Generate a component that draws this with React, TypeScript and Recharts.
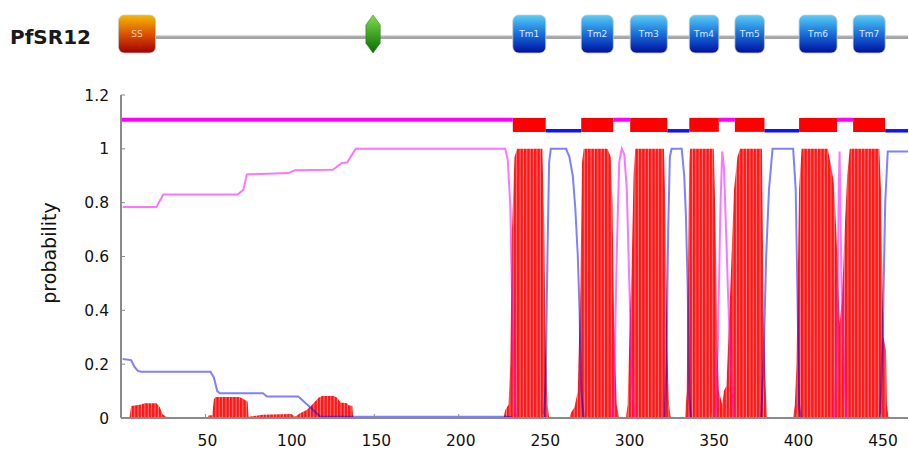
import React from "react";
import { ComposedChart, Area, Line, XAxis, YAxis, ReferenceArea, ReferenceLine } from "recharts";

// residue axis
const X_MAX = 466;
const xTicks = [50, 100, 150, 200, 250, 300, 350, 400, 450];
const yTicks = [0, 0.2, 0.4, 0.6, 0.8, 1, 1.2];

const proteinName = "PfSR12";

// posterior probabilities, [residue, p]
const tmProb: [number, number][] = [
  [0, 0], [5, 0], [6, 0.045], [12, 0.05], [14, 0.055], [21, 0.055], [23, 0.04], [24.5, 0.015], [27, 0.004], [33, 0.004], [34, 0],
  [51, 0], [52, 0.01], [54, 0.01], [55, 0.07], [56, 0.078], [70, 0.078], [72, 0.072], [75, 0.06], [75.5, 0.005],
  [84, 0.012], [101, 0.015], [103, 0.005], [106, 0.018], [110, 0.03], [114, 0.055], [117, 0.075], [119, 0.082],
  [126, 0.082], [128, 0.075], [130, 0.058], [134, 0.055], [134.5, 0.048], [137, 0.045], [137.5, 0],
  [226.5, 0], [227.5, 0.03], [229.5, 0.05], [230.5, 0.2], [231.5, 0.7], [233, 0.97], [234.5, 1], [249.5, 1],
  [250.5, 0.75], [251.5, 0.25], [252.5, 0.05], [253.5, 0],
  [265.5, 0], [266.5, 0.02], [268.5, 0.04], [270.5, 0.1], [272, 0.5], [273, 0.95], [274, 1], [288, 1],
  [290, 0.97], [291, 0.8], [292, 0.35], [293.5, 0.05], [295, 0],
  [299, 0], [300, 0.05], [301, 0.3], [302.5, 0.6], [303.5, 0.9], [304.5, 1], [321.5, 1], [322.5, 0.75],
  [323.5, 0.25], [324.5, 0.05], [325.5, 0],
  [334, 0], [335, 0.1], [335.5, 0.45], [336.5, 0.95], [337, 1], [351, 1], [352, 0.75], [353, 0.3], [354, 0.1],
  [356, 0.05], [357, 0.1], [358.5, 0.12], [360, 0.35], [361.5, 0.6], [363, 0.85], [365, 0.97], [366.5, 1],
  [379.5, 1], [380.5, 0.45], [381.5, 0.15], [382.5, 0],
  [398, 0], [399, 0.05], [400, 0.2], [401.5, 0.85], [403, 1], [418.5, 1], [420, 0.95], [422, 0.88], [423.5, 0.7],
  [424.5, 0.55], [425.5, 0.35], [427, 0.45], [428.5, 0.7], [430, 0.9], [431.5, 1], [449, 1], [450, 0.85],
  [451, 0.45], [451.5, 0.3], [453, 0.25], [453.5, 0.05], [454.5, 0], [466, 0],
];

const insideProb: [number, number][] = [
  [1, 0.219], [6, 0.215], [8, 0.19], [10, 0.175], [12, 0.172], [53, 0.172], [55, 0.15], [57, 0.1], [58.5, 0.092],
  [84, 0.092], [86.5, 0.08], [105, 0.08], [112, 0.04], [118, 0.005], [230, 0.005], [232, 0],
  [250.5, 0], [251.5, 0.15], [252.5, 0.6], [253.5, 0.95], [254.5, 1], [263.5, 1], [265.5, 0.97], [267.5, 0.9],
  [269, 0.78], [270.5, 0.6], [271.5, 0.4], [272.5, 0.1], [274, 0],
  [322, 0], [323, 0.2], [324, 0.7], [325, 0.97], [326, 1], [332, 1], [333.5, 0.9], [334.5, 0.75], [335.5, 0.5],
  [336.5, 0.08], [337.5, 0],
  [379, 0], [380.3, 0.17], [382, 0.6], [383.7, 0.85], [385.8, 1], [398, 1], [399.5, 0.85], [400.5, 0.48],
  [401.5, 0.05], [402.5, 0],
  [449.5, 0], [451, 0.3], [452.5, 0.8], [454, 0.99], [466, 0.99],
];

const outsideProb: [number, number][] = [
  [1, 0.784], [21, 0.784], [25, 0.83], [69, 0.83], [72.5, 0.848], [74.5, 0.905], [99, 0.91], [103, 0.92],
  [125.5, 0.922], [130.5, 0.947], [134, 0.95], [139, 1.0], [227.5, 1.0], [229, 0.96], [230.5, 0.79], [232, 0.3],
  [233.5, 0.02], [234.5, 0],
  [291, 0], [292, 0.1], [293.5, 0.6], [295, 0.95], [296.5, 1.0], [298, 0.98], [299.5, 0.85], [301, 0.5],
  [302.5, 0.15], [304, 0],
  [352, 0], [353.5, 0.3], [355, 0.8], [356, 0.99], [357, 0.93], [358, 0.75], [359.5, 0.45], [361, 0.2], [363, 0],
  [422.5, 0], [424, 0.3], [425, 0.85], [425.5, 0.99], [426.5, 0.55], [428, 0.2], [429.5, 0], [466, 0],
];

// predicted topology
const tmHelices: [number, number][] = [
  [232, 251.5], [272.5, 291.5], [301.5, 323.5], [336.5, 354], [363.5, 381], [401.5, 424], [433.5, 452.5],
];
const outsideLoops: [number, number][] = [[0, 232], [291.5, 301.5], [354, 363.5], [424, 433.5]];
const insideLoops: [number, number][] = [[251.5, 272.5], [323.5, 336.5], [381, 401.5], [452.5, 466]];

// domain track drawn above the plot (signal peptide, low complexity marker)
const signalPeptide: [number, number] = [-1.5, 20.5];
const lowComplexity: [number, number] = [145, 153.5];

const toPoints = (arr: [number, number][]) => arr.map(([x, p]) => ({ x, p }));

const FONT = "DejaVu Sans, Verdana, sans-serif";
const AXIS = "#8a8a8a";
const OUT_LEVEL = 1.108;
const IN_LEVEL = 1.067;
// header track sits above the frame, in the same residue scale
const TRACK_Y: [number, number] = [1.356, 1.497];
const BACKBONE_Y: [number, number] = [1.408, 1.423];

function Backbone(props: any) {
  const { x, y, width, height } = props;
  return (
    <g>
      <rect x={x} y={y} width={width} height={height} fill="#a4a4a4" />
      <rect x={x} y={y} width={width} height={1.3} fill="#d8d8d8" />
    </g>
  );
}

function DomainBox(props: any) {
  const { x, y, width, height, label, grad, textFill } = props;
  return (
    <g>
      <rect x={x} y={y} width={width} height={height} rx={6} ry={6} fill={`url(#${grad})`} stroke="#c8c8c8" strokeWidth={0.8} />
      <text x={x + width / 2} y={y + height / 2 + 3} textAnchor="middle" fontSize={9} fontFamily={FONT} fill={textFill}>
        {label}
      </text>
    </g>
  );
}

function Marker(props: any) {
  const { x, y, width, height } = props;
  const cx = x + width / 2;
  const h = width / 2;
  const pts = [
    [cx, y], [cx + h, y + height * 0.26], [cx + h, y + height * 0.74],
    [cx, y + height], [cx - h, y + height * 0.74], [cx - h, y + height * 0.26],
  ].map((p) => p.join(",")).join(" ");
  return <polygon points={pts} fill="url(#lcGrad)" stroke="#3c7a2c" strokeWidth={0.6} />;
}

export default function App() {
  const tickStyle = { fill: "#111", fontSize: 15.5, fontFamily: FONT };
  return (
    <div style={{ position: "absolute", left: 0, top: 0, width: 909, height: 451, background: "#fff" }}>
      <div
        style={{
          position: "absolute", left: 10, top: 27, fontFamily: FONT, fontWeight: "bold",
          fontSize: 20, lineHeight: "20px", color: "#1a1a1a",
        }}
      >
        {proteinName}
      </div>
      <div
        style={{
          position: "absolute", left: 49, top: 253, transform: "translate(-50%, -50%) rotate(-90deg)",
          fontFamily: FONT, fontSize: 19, whiteSpace: "nowrap", color: "#111",
        }}
      >
        probability
      </div>
      <div style={{ position: "absolute", left: 0, top: 0 }}>
        <ComposedChart width={909} height={451} margin={{ top: 95, right: 1, bottom: 3, left: 81 }}>
          <defs>
            <pattern id="tmStripes" width={3.38} height={8} patternUnits="userSpaceOnUse">
              <rect width={3.38} height={8} fill="#ff1616" />
              <rect x={2.4} width={0.9} height={8} fill="#ff8c8c" />
            </pattern>
            <linearGradient id="tmGrad" x1="0" y1="0" x2="0" y2="1">
              <stop offset="0%" stopColor="#5ccdf5" />
              <stop offset="45%" stopColor="#1a78de" />
              <stop offset="100%" stopColor="#000fa0" />
            </linearGradient>
            <linearGradient id="ssGrad" x1="0" y1="0" x2="0" y2="1">
              <stop offset="0%" stopColor="#f5b800" />
              <stop offset="50%" stopColor="#dc5200" />
              <stop offset="100%" stopColor="#a00000" />
            </linearGradient>
            <linearGradient id="lcGrad" x1="0" y1="0" x2="0" y2="1">
              <stop offset="0%" stopColor="#7ede4a" />
              <stop offset="100%" stopColor="#056a05" />
            </linearGradient>
          </defs>
          <XAxis
            type="number" dataKey="x" domain={[0, X_MAX]} ticks={xTicks} height={30}
            tick={{ ...tickStyle, dx: 2 }} tickSize={-4} tickMargin={21}
            axisLine={{ stroke: AXIS, strokeWidth: 2 }} tickLine={{ stroke: AXIS }}
          />
          <XAxis
            xAxisId="top" orientation="top" type="number" domain={[0, X_MAX]} ticks={xTicks} height={0}
            tick={false} tickSize={-4} axisLine={{ stroke: AXIS, strokeWidth: 2 }} tickLine={{ stroke: AXIS }}
          />
          <YAxis
            type="number" domain={[0, 1.2]} ticks={yTicks} width={40}
            tick={tickStyle} tickSize={-4} tickMargin={16} tickFormatter={(v) => String(v)}
            axisLine={{ stroke: AXIS, strokeWidth: 2 }} tickLine={{ stroke: AXIS }}
          />
          <YAxis
            yAxisId="right" orientation="right" type="number" domain={[0, 1.2]} ticks={yTicks} width={0}
            tick={false} tickSize={-4} axisLine={{ stroke: AXIS, strokeWidth: 2 }} tickLine={{ stroke: AXIS }}
          />
          <Area
            data={toPoints(tmProb)} dataKey="p" type="linear" fill="url(#tmStripes)" fillOpacity={1}
            stroke="none" isAnimationActive={false} dot={false} activeDot={false}
          />
          <Line
            data={toPoints(insideProb)} dataKey="p" type="linear" stroke="#0000ff" strokeOpacity={0.5}
            strokeWidth={2} dot={false} activeDot={false} isAnimationActive={false}
          />
          <Line
            data={toPoints(outsideProb)} dataKey="p" type="linear" stroke="#ff00ff" strokeOpacity={0.55}
            strokeWidth={2} dot={false} activeDot={false} isAnimationActive={false}
          />
          {outsideLoops.map(([a, b], i) => (
            <ReferenceLine key={`o${i}`} segment={[{ x: a, y: OUT_LEVEL }, { x: b, y: OUT_LEVEL }]} stroke="#ff00ff" strokeWidth={4} />
          ))}
          {insideLoops.map(([a, b], i) => (
            <ReferenceLine key={`i${i}`} segment={[{ x: a, y: IN_LEVEL }, { x: b, y: IN_LEVEL }]} stroke="#1010ff" strokeWidth={3.5} />
          ))}
          {tmHelices.map(([a, b], i) => (
            <ReferenceArea key={`t${i}`} x1={a} x2={b} y1={1.063} y2={1.115} fill="#ff0000" fillOpacity={1} stroke="none" />
          ))}
          {/* domain track */}
          <ReferenceArea
            x1={signalPeptide[1]} x2={X_MAX} y1={BACKBONE_Y[0]} y2={BACKBONE_Y[1]} ifOverflow="visible"
            shape={(p: any) => <Backbone {...p} />}
          />
          <ReferenceArea
            x1={signalPeptide[0]} x2={signalPeptide[1]} y1={TRACK_Y[0]} y2={TRACK_Y[1]} ifOverflow="visible"
            shape={(p: any) => <DomainBox {...p} label="SS" grad="ssGrad" textFill="#f3d2b0" />}
          />
          <ReferenceArea
            x1={lowComplexity[0]} x2={lowComplexity[1]} y1={TRACK_Y[0]} y2={TRACK_Y[1]} ifOverflow="visible"
            shape={(p: any) => <Marker {...p} />}
          />
          {tmHelices.map(([a, b], i) => (
            <ReferenceArea
              key={`h${i}`} x1={a} x2={b} y1={TRACK_Y[0]} y2={TRACK_Y[1]} ifOverflow="visible"
              shape={(p: any) => <DomainBox {...p} label={`Tm${i + 1}`} grad="tmGrad" textFill="#dce6ff" />}
            />
          ))}
        </ComposedChart>
      </div>
    </div>
  );
}
